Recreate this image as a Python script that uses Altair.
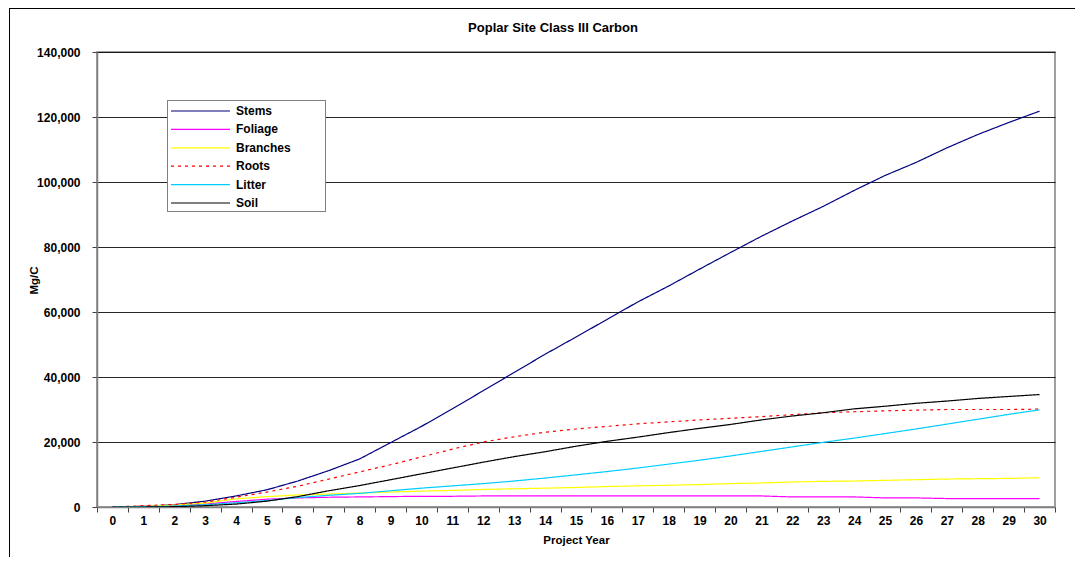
import altair as alt
import pandas as pd

years = list(range(0, 31))
series_names = ["Stems", "Foliage", "Branches", "Roots", "Litter", "Soil"]
series_colors = ["#000080", "#FF00FF", "#FFFF00", "#FF0000", "#00CCFF", "#000000"]

stems = [0, 200, 700, 1800, 3400, 5300, 8000, 11200, 14800, 19800, 24800, 30200, 35800,
         41400, 47000, 52300, 57700, 63100, 68000, 73200, 78300, 83300, 88000, 92500,
         97400, 102000, 106000, 110500, 114600, 118300, 121800]
foliage = [0, 200, 500, 900, 1700, 2400, 2800, 3000, 3100, 3200, 3300, 3300, 3400, 3400,
           3400, 3400, 3400, 3400, 3400, 3400, 3400, 3400, 3100, 3100, 3100, 2800, 2800,
           2600, 2600, 2600, 2600]
branches = [0, 200, 600, 1200, 2500, 3200, 3700, 4000, 4300, 4600, 4900, 5100, 5400, 5600,
            5800, 6000, 6300, 6500, 6700, 6900, 7200, 7400, 7700, 7900, 8000, 8200, 8400,
            8600, 8700, 8800, 9000]
roots = [0, 400, 800, 1500, 3000, 4600, 6400, 8600, 10800, 13000, 15400, 17800, 20000,
         21600, 23000, 24000, 24800, 25600, 26200, 26800, 27300, 27800, 28400, 29000,
         29300, 29600, 29800, 30000, 30000, 30000, 30100]
litter = [0, 100, 300, 700, 1300, 2000, 2900, 3600, 4200, 5000, 5800, 6500, 7200, 8000,
          8900, 9900, 10900, 12000, 13200, 14400, 15700, 17100, 18500, 19900, 21200, 22600,
          24000, 25500, 27000, 28500, 29900]
soil = [0, 0, 100, 400, 900, 1800, 3200, 5000, 6600, 8400, 10200, 12000, 13800, 15500,
        17000, 18700, 20200, 21500, 22900, 24200, 25400, 26800, 28000, 29000, 30200, 31000,
        31900, 32600, 33400, 34000, 34600]

y_ticks = [0, 20000, 40000, 60000, 80000, 100000, 120000, 140000]

values = {"Stems": stems, "Foliage": foliage, "Branches": branches,
          "Roots": roots, "Litter": litter, "Soil": soil}
rows = []
for name in series_names:
    for yr, v in zip(years, values[name]):
        rows.append({"Year": yr, "Series": name, "Value": v})
df = pd.DataFrame(rows)

FONT = "Liberation Sans"

lines = alt.Chart(df).mark_line(strokeWidth=1.2, clip=True).encode(
    x=alt.X("Year:O", bandPosition=0.5,
            scale=alt.Scale(type="band", paddingInner=0, paddingOuter=0, domain=years),
            axis=alt.Axis(title="Project Year", labelAngle=0, tickBand="extent",
                          grid=False, tickSize=5, labelPadding=3, titlePadding=8)),
    y=alt.Y("Value:Q", scale=alt.Scale(domain=[0, 140000], nice=False),
            axis=alt.Axis(title="Mg/C", values=y_ticks, format=",.0f", grid=True,
                          tickSize=5, labelPadding=12, titleX=-58, titleY=228)),
    color=alt.Color("Series:N", sort=series_names,
                    scale=alt.Scale(domain=series_names, range=series_colors),
                    legend=alt.Legend(title=None, orient="none", legendX=70, legendY=48,
                                      symbolType="stroke", symbolSize=3481,
                                      symbolStrokeWidth=1.2, clipHeight=16,
                                      labelFont=FONT, labelFontSize=12,
                                      labelFontWeight="bold", labelColor="#000000",
                                      labelOffset=5, rowPadding=2.4,
                                      padding=3, strokeColor="transparent",
                                      fillColor="transparent")),
    strokeDash=alt.StrokeDash("Series:N", sort=series_names,
                              scale=alt.Scale(domain=series_names,
                                              range=[[1, 0], [1, 0], [1, 0], [3, 4], [1, 0], [1, 0]]),
                              legend=None),
)

# legend frame (decoration behind the native legend)
legend_box = alt.Chart(df).mark_rect(fill="#FFFFFF", stroke="#808080", strokeWidth=1).encode(
    x=alt.value(70.5), x2=alt.value(228.5), y=alt.value(48.5), y2=alt.value(159.5))

frame_left = alt.Chart(df).mark_rule(color="#000000", strokeWidth=1).encode(
    x=alt.value(-87.5), y=alt.value(-44), y2=alt.value(520))
frame_top = alt.Chart(df).mark_rule(color="#000000", strokeWidth=1).encode(
    x=alt.value(-88), x2=alt.value(1000), y=alt.value(-43.5))

chart = alt.layer(frame_left, frame_top, lines, legend_box).properties(
    width=958, height=455,
    background="#FFFFFF",
    autosize=alt.AutoSizeParams(type="none"),
    padding={"left": 89, "top": 44, "right": 20, "bottom": 50},
    title=alt.TitleParams("Poplar Site Class III Carbon", font=FONT, fontSize=13,
                          fontWeight="bold", color="#000000", anchor="middle",
                          dx=-23, dy=45, offset=18),
).configure_view(stroke="#808080", strokeWidth=1.5).configure_axis(
    labelFont=FONT, labelFontSize=12, labelFontWeight="bold", labelColor="#000000",
    titleFont=FONT, titleFontSize=11.5, titleFontWeight="bold", titleColor="#000000",
    domainColor="#808080", domainWidth=1.5, tickColor="#404040", tickWidth=1,
    gridColor="#000000", gridWidth=1, gridOpacity=0.85,
)

chart.save("out.html", embed_options={"renderer": "svg", "actions": False})
